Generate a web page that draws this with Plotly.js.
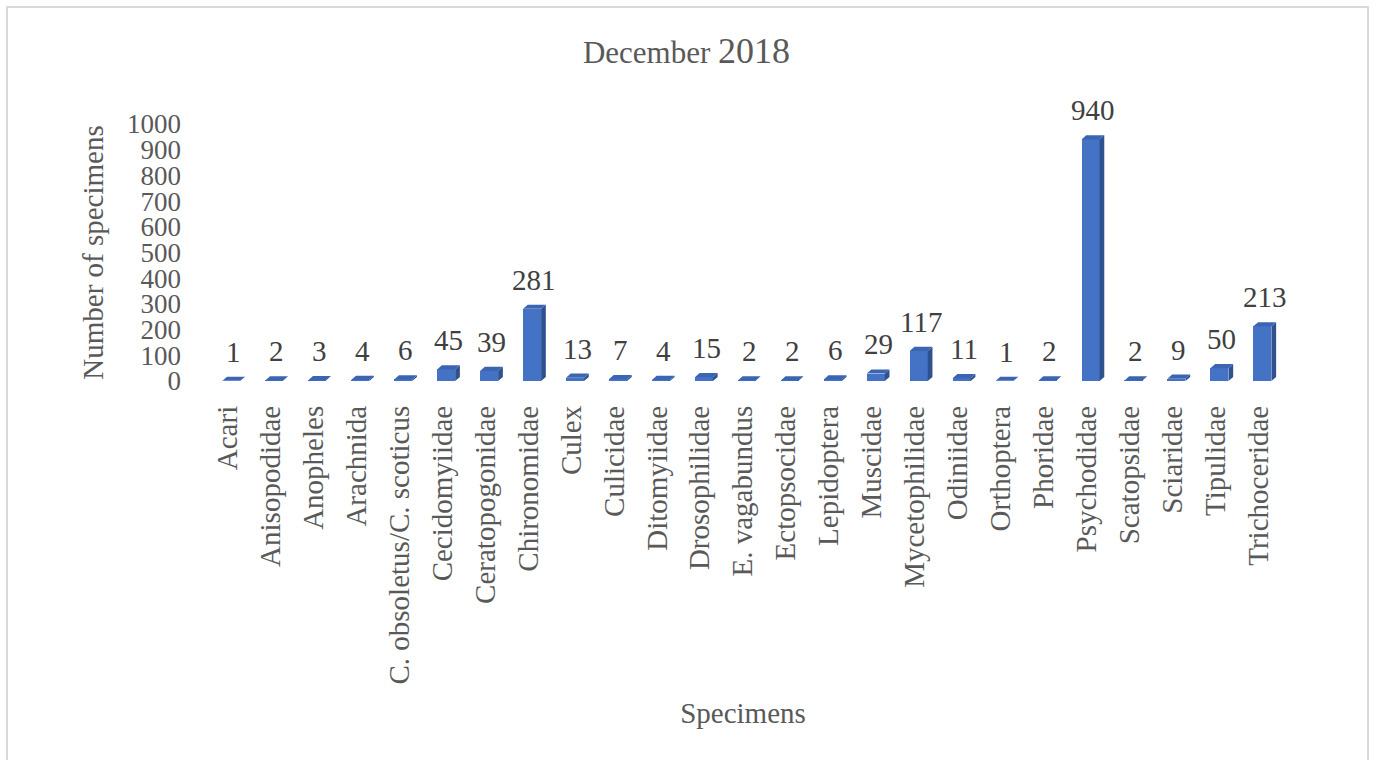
<!DOCTYPE html>
<html>
<head>
<meta charset="utf-8">
<script src="https://cdn.plot.ly/plotly-3.0.1.min.js"></script>
<style>
  html, body { margin: 0; padding: 0; background: #ffffff; }
  #wrap { position: relative; width: 1373px; height: 760px; overflow: hidden; }
  #chart { position: absolute; left: 0; top: 0; width: 1373px; height: 760px; }
  #frame { position: absolute; left: 6px; top: 6px; width: 1359px; height: 780px;
           border: 2px solid #d9d9d9; pointer-events: none; }
</style>
</head>
<body>
<div id="wrap">
  <div id="chart"></div>
  <div id="frame"></div>
</div>
<script>
// ---- data ----
const categories = [
  "Acari", "Anisopodidae", "Anopheles", "Arachnida", "C. obsoletus/C. scoticus",
  "Cecidomyiidae", "Ceratopogonidae", "Chironomidae", "Culex", "Culicidae",
  "Ditomyiidae", "Drosophilidae", "E. vagabundus", "Ectopsocidae", "Lepidoptera",
  "Muscidae", "Mycetophilidae", "Odiniidae", "Orthoptera", "Phoridae",
  "Psychodidae", "Scatopsidae", "Sciaridae", "Tipulidae", "Trichoceridae"
];
const counts = [1, 2, 3, 4, 6, 45, 39, 281, 13, 7, 4, 15, 2, 2, 6, 29, 117, 11, 1, 2, 940, 2, 9, 50, 213];
const yTicks = [0, 100, 200, 300, 400, 500, 600, 700, 800, 900, 1000];
const chartTitle = "December <span style='font-size:36px'>2018</span>";
const xTitle = "Specimens";
const yTitle = "Number of specimens";

// ---- 3D-look geometry (style, in axis units) ----
const FRONT_L = -0.12, FRONT_W = 0.42;   // front face offset & width
const DX = 0.11, DY = 16;                // depth offset (x units, y units)
const idx = categories.map((_, i) => i);

const sideX = [], sideY = [], topX = [], topY = [];
idx.forEach(i => {
  const v = counts[i];
  const xl = i + FRONT_L, xr = i + FRONT_L + FRONT_W;
  sideX.push(xr, xr + DX, xr + DX, xr, xr, null);
  sideY.push(0, DY, v + DY, v, 0, null);
  topX.push(xl, xl + DX, xr + DX, xr, xl, null);
  topY.push(v, v + DY, v + DY, v, v, null);
});

const font = "'Times New Roman', 'Liberation Serif', serif";

const traces = [
  {
    type: 'bar', x: idx, y: counts, width: FRONT_W, offset: FRONT_L,
    marker: { color: '#4472C4', line: { width: 0 } },
    hoverinfo: 'skip', showlegend: false
  },
  {
    type: 'scatter', mode: 'lines', x: sideX, y: sideY, fill: 'toself',
    fillcolor: '#2F528F', line: { width: 0, color: '#2F528F' },
    hoverinfo: 'skip', showlegend: false
  },
  {
    type: 'scatter', mode: 'lines', x: topX, y: topY, fill: 'toself',
    fillcolor: '#3B65B2', line: { width: 0, color: '#3B65B2' },
    hoverinfo: 'skip', showlegend: false
  }
];

const annotations = idx.map(i => ({
  x: i + FRONT_L + (FRONT_W + DX) / 2, y: counts[i] + DY,
  xref: 'x', yref: 'y', text: String(counts[i]),
  showarrow: false, yanchor: 'bottom', xanchor: 'center', yshift: 7,
  font: { family: font, size: 29, color: '#404040' }
}));

const layout = {
  width: 1373, height: 760,
  margin: { l: 206, r: 93, t: 124, b: 379, pad: 0 },
  paper_bgcolor: '#ffffff', plot_bgcolor: '#ffffff',
  title: {
    text: chartTitle, x: 0.5, xref: 'container', xanchor: 'center',
    y: 1 - 52 / 760, yref: 'container', yanchor: 'middle',
    font: { family: font, size: 31, color: '#595959' }
  },
  xaxis: {
    type: 'linear', range: [-0.5, 24.5],
    tickmode: 'array', tickvals: idx, ticktext: categories,
    tickangle: -90, ticks: '', showgrid: false, zeroline: false, showline: false,
    ticklabelstandoff: 18,
    tickfont: { family: font, size: 29, color: '#595959' },
    title: { text: xTitle, standoff: 19, font: { family: font, size: 29, color: '#595959' } },
    automargin: false, fixedrange: true
  },
  yaxis: {
    range: [0, 1000], tickmode: 'array', tickvals: yTicks,
    ticks: '', showgrid: false, zeroline: false, showline: false,
    ticklabelstandoff: 24,
    tickfont: { family: font, size: 27, color: '#595959' },
    title: { text: yTitle, standoff: 14, font: { family: font, size: 29, color: '#595959' } },
    automargin: false, fixedrange: true
  },
  annotations: annotations,
  bargap: 0
};

Plotly.newPlot('chart', traces, layout, { displayModeBar: false, staticPlot: true });
</script>
</body>
</html>
